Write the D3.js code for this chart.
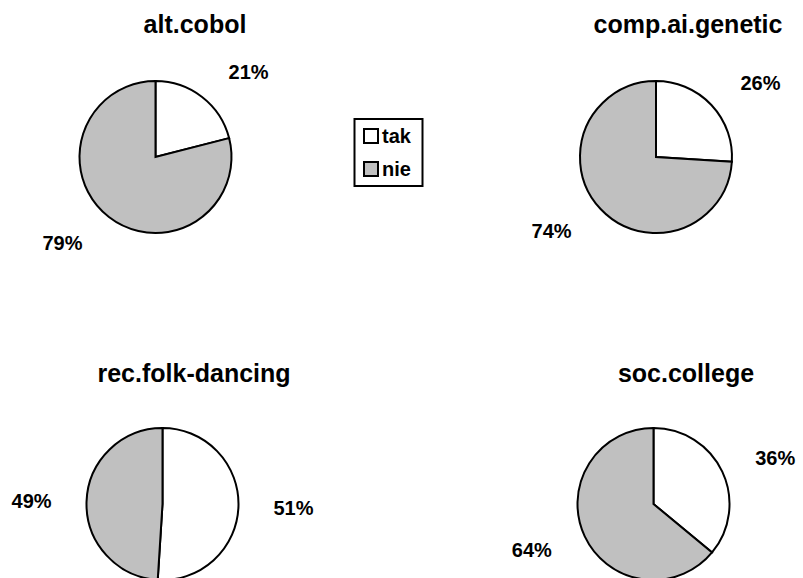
<!DOCTYPE html>
<html>
<head>
<meta charset="utf-8">
<script src="https://cdn.jsdelivr.net/npm/d3@7"></script>
<style>
  body { margin: 0; background: #fff; }
  text { font-family: "Liberation Sans", Arial, sans-serif; font-weight: bold; fill: #000; }
</style>
</head>
<body>
<script>
// data
const groups = ["alt.cobol", "comp.ai.genetic", "rec.folk-dancing", "soc.college"];
const answers = ["tak", "nie"];
const takPct = [21, 26, 51, 36];
const niePct = [79, 74, 49, 64];

const width = 803, height = 578;

// layout of the 4 panels (pie centres differ a little per panel)
const pieX = [155.5, 656, 162.5, 653.5], pieY = [157, 157, 504, 504];
const titleX = [195, 688, 194, 686], titleY = [33, 33, 382, 382];
const radius = 76;

const color = d3.scaleOrdinal().domain(answers).range(["#ffffff", "#c0c0c0"]);

const svg = d3.select("body")
    .append("svg")
    .attr("width", width)
    .attr("height", height);

const pie = d3.pie().sort(null).value(d => d.value);
const arc = d3.arc().innerRadius(0).outerRadius(radius);

groups.forEach((g, i) => {
    const values = [{ key: "tak", value: takPct[i] }, { key: "nie", value: niePct[i] }];

    // title
    svg.append("text")
        .attr("x", titleX[i])
        .attr("y", titleY[i])
        .attr("text-anchor", "middle")
        .style("font-size", "25px")
        .text(g);

    const panel = svg.append("g")
        .attr("transform", "translate(" + pieX[i] + "," + pieY[i] + ")");

    // slices
    panel.selectAll("path")
        .data(pie(values))
        .enter()
        .append("path")
        .attr("d", arc)
        .style("fill", d => color(d.data.key))
        .style("stroke", "#000")
        .style("stroke-width", 2)
        .style("stroke-linejoin", "miter");

    // percentage labels outside the pie, near edge of the text toward the pie
    panel.selectAll("text")
        .data(pie(values))
        .enter()
        .append("text")
        .each(function (d) {
            const a = (d.startAngle + d.endAngle) / 2;
            const dx = Math.sin(a), dy = -Math.cos(a);
            const side = dx >= 0 ? 1 : -1;
            d3.select(this)
                .attr("x", side * (13 + 98 * Math.abs(dx)))
                .attr("y", 108 * dy)
                .attr("dy", "0.36em")
                .attr("text-anchor", side > 0 ? "start" : "end");
        })
        .style("font-size", "20px")
        .text(d => d.data.value + "%");
});

// legend
const legend = svg.append("g").attr("id", "legend");
legend.append("rect")
    .attr("x", 354.5).attr("y", 119)
    .attr("width", 68).attr("height", 67)
    .style("fill", "#fff")
    .style("stroke", "#000")
    .style("stroke-width", 2);

const items = legend.selectAll(".legend-label")
    .data(answers)
    .enter()
    .append("g")
    .attr("class", "legend-label")
    .attr("transform", (d, i) => "translate(364," + (136 + i * 33) + ")");

items.append("rect")
    .attr("x", 0).attr("y", -7)
    .attr("width", 14).attr("height", 14)
    .style("fill", color)
    .style("stroke", "#000")
    .style("stroke-width", 2);

items.append("text")
    .attr("x", 18)
    .attr("y", 0)
    .attr("dy", "0.36em")
    .style("font-size", "20px")
    .text(d => d);
</script>
</body>
</html>
